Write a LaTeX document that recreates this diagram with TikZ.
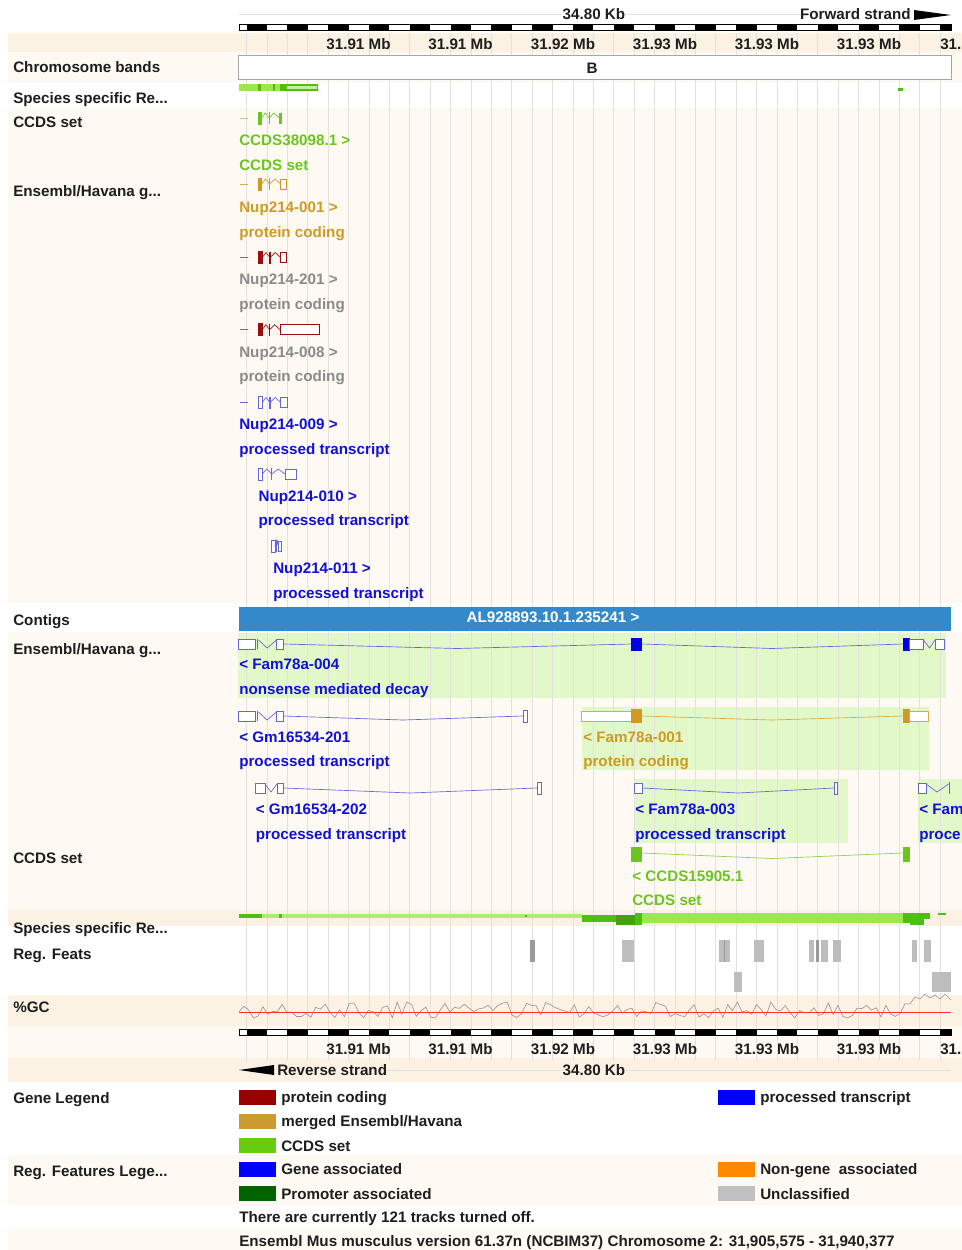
\documentclass[tikz,border=0pt]{standalone}
\usepackage{fontspec}
\setmainfont{Liberation Sans}
\definecolor{labc}{HTML}{1E1E1E}
\definecolor{ccdsg}{HTML}{6CC51F}
\definecolor{goldc}{HTML}{CF9A22}
\definecolor{goldl}{HTML}{D8AA48}
\definecolor{redc}{HTML}{9E0D0D}
\definecolor{greyt}{HTML}{8A8A8A}
\definecolor{bluet}{HTML}{1010D8}
\definecolor{blueg}{HTML}{6565DE}
\definecolor{bluef}{HTML}{0000E6}
\definecolor{contigc}{HTML}{3489CB}
\definecolor{genebg}{HTML}{E2F8C9}
\definecolor{sslight}{HTML}{9BE655}
\definecolor{ssdark}{HTML}{4CBF12}
\definecolor{gridc}{HTML}{E4E1DC}
\definecolor{cA}{HTML}{FEFAF3}
\definecolor{cB}{HTML}{FBF2E4}
\definecolor{regg}{HTML}{BDBDBD}
\definecolor{regd}{HTML}{9A9A9A}
\definecolor{lgred}{HTML}{990000}
\definecolor{lggold}{HTML}{CC9A2E}
\definecolor{lggreen}{HTML}{66CC11}
\definecolor{lgblue}{HTML}{0000FF}
\definecolor{lgorange}{HTML}{FF8800}
\definecolor{lgdkgreen}{HTML}{006400}
\definecolor{lggrey}{HTML}{C0C0C0}
\newcommand\fs{\fontsize{11.4pt}{13pt}\selectfont\bfseries}
\newcommand\gly[8]{%
 \pgfmathsetmacro\gA{#4+0.2*(#5-#4)}%
 \pgfmathsetmacro\gB{#4+0.42*(#5-#4)}%
 \pgfmathsetmacro\gC{#4+0.7*(#5-#4)}%
 \draw[#1,line width=0.7pt,#7] (#3,#2-6) rectangle (#4,#2+6);
 \draw[#1,line width=0.5pt] (#4,#2) -- (\gA,#2-5) -- (\gB,#2);
 \draw[#1,line width=0.8pt] (\gB,#2-6) -- (\gB,#2+6);
 \draw[#1,line width=0.5pt] (\gB,#2) -- (\gC,#2-5) -- (#5,#2);
 \draw[#1,line width=0.7pt,#8] (#5,#2-5) rectangle (#6,#2+5);
}
\begin{document}
\begin{tikzpicture}[x=0.75pt,y=-0.75pt,
  tx/.style={anchor=base west,inner sep=0pt,font=\fs,text=labc},
  tc/.style={anchor=base,inner sep=0pt,font=\fs,text=labc},
  te/.style={anchor=base east,inner sep=0pt,font=\fs,text=labc},
  gl/.style={line width=0.7pt},
  intr/.style={line width=0.5pt}]
\clip (0,0) rectangle (962,1250);
\fill[white] (0,0) rectangle (962,1250);
% stripes
\fill[cB] (8,33) rectangle (962,52);
\fill[cA] (8,52) rectangle (962,83);
\fill[cA] (8,108) rectangle (962,603);
\fill[cA] (8,632) rectangle (962,910);
\fill[cB] (8,910) rectangle (962,926);
\fill[cB] (8,995) rectangle (962,1026);
\fill[cA] (8,1026) rectangle (962,1058);
\fill[cB] (8,1058) rectangle (962,1082);
\fill[cA] (8,1155) rectangle (962,1205);
\fill[cA] (8,1228) rectangle (962,1250);
% gene backgrounds
\fill[genebg] (238,633) rectangle (946,698);
\fill[genebg] (581.5,706.5) rectangle (928.5,770);
\fill[genebg] (634,779) rectangle (848,843);
\fill[genebg] (918,779) rectangle (962,843);
% grid
\foreach \k in {0,...,34} \draw[gridc,line width=0.5pt] ({246.5+20.4*\k},33) -- ++(0,1027);
% top ruler
\draw[gridc,line width=0.6pt] (239,14) -- (562,14) (626,14) -- (808,14);
\node[tc] (kbtop) at (594,19) {34.80 Kb};
\node[te] (fwd) at (911,19) {Forward strand};
\fill[black] (914,10) -- (951,15) -- (914,20) -- cycle;
\draw[black,line width=0.75pt,fill=white] (239,24) rectangle (951,30);
\foreach \k in {0,...,17} \fill[black] ({246.5+40.8*\k},24) rectangle ({min(266.9+40.8*\k,951)},30);
\node[tc] (m1) at (358.5,49) {31.91 Mb};
\node[tc] (m2) at (460.5,49) {31.91 Mb};
\node[tc] (m3) at (563,49) {31.92 Mb};
\node[tc] (m4) at (665,49) {31.93 Mb};
\node[tc] (m5) at (767,49) {31.93 Mb};
\node[tc] (m6) at (869,49) {31.93 Mb};
\node[tx] (m7) at (940,49) {31.};
% left labels
\node[tx] (L1) at (13,72) {Chromosome bands};
\node[tx] (L2) at (13,103) {Species specific Re...};
\node[tx] (L3) at (13,127) {CCDS set};
\node[tx] (L4) at (13,196) {Ensembl/Havana g...};
\node[tx] (L5) at (13,625) {Contigs};
\node[tx] (L6) at (13,654) {Ensembl/Havana g...};
\node[tx] (L7) at (13,863) {CCDS set};
\node[tx] (L8) at (13,933) {Species specific Re...};
\node[tx] (L9) at (13,959) {Reg. Feats};
\node[tx] (L10) at (13,1012) {\%GC};
\node[tx] (L11) at (13,1103) {Gene Legend};
\node[tx] (L12) at (13,1176) {Reg. Features Lege...};
% chromosome band
\draw[gray!70,line width=0.75pt,fill=white] (238.5,55) rectangle (951,79.5);
\node[tc] (band) at (592,73) {B};
% species specific top
\fill[sslight] (238.5,83.5) rectangle (280,90.5);
\fill[ssdark] (258.3,83.5) rectangle (260.7,90.5);
\fill[ssdark] (272.7,83.5) rectangle (274.7,90.5);
\fill[ssdark] (280,83.5) rectangle (318.3,90.5);
\fill[sslight!60!white] (287,85.5) rectangle (317,88.5);
\fill[ssdark] (898,88) rectangle (903,90.5);
% upper gene glyphs
\draw[ccdsg!60!white,line width=0.6pt] (240,118) -- (248,118);
\gly{ccdsg}{118}{258.3}{261.7}{279.5}{281.7}{fill=ccdsg}{fill=ccdsg}
\node[tx,text=ccdsg] (c1a) at (239,145) {CCDS38098.1 >};
\node[tx,text=ccdsg] (c1b) at (239,170) {CCDS set};
\draw[goldl,line width=0.6pt] (240,184) -- (248,184);
\gly{goldc}{184}{258.3}{261.7}{280.7}{286.7}{fill=goldc}{fill=white}
\node[tx,text=goldc] (n1a) at (239,212) {Nup214-001 >};
\node[tx,text=goldc] (n1b) at (239,237) {protein coding};
\draw[redc!70!white,line width=0.6pt] (240,257.5) -- (248,257.5);
\gly{redc}{257.5}{258.3}{262.3}{280.7}{286.7}{fill=redc}{fill=white}
\node[tx,text=greyt] (n2a) at (239,284) {Nup214-201 >};
\node[tx,text=greyt] (n2b) at (239,309) {protein coding};
\draw[redc!70!white,line width=0.6pt] (240,329.7) -- (248,329.7);
\gly{redc}{329.7}{258.3}{262.3}{280}{319.3}{fill=redc}{fill=white}
\node[tx,text=greyt] (n3a) at (239,357) {Nup214-008 >};
\node[tx,text=greyt] (n3b) at (239,381) {protein coding};
\draw[blueg,line width=0.6pt] (240,402.5) -- (248,402.5);
\gly{blueg}{402.5}{258.3}{262.3}{280.7}{287.3}{fill=white}{fill=white}
\node[tx,text=bluet] (n4a) at (239,429) {Nup214-009 >};
\node[tx,text=bluet] (n4b) at (239,454) {processed transcript};
\gly{blueg}{474}{258.3}{262.3}{285}{296.7}{fill=white}{fill=white}
\node[tx,text=bluet] (n5a) at (258.3,501) {Nup214-010 >};
\node[tx,text=bluet] (n5b) at (258.3,525.5) {processed transcript};
\gly{blueg}{546}{271.7}{275}{278.3}{281.7}{fill=white}{fill=white}
\node[tx,text=bluet] (n6a) at (273,573.5) {Nup214-011 >};
\node[tx,text=bluet] (n6b) at (273,598.5) {processed transcript};
% contig
\fill[contigc] (238.5,606.5) rectangle (951,631);
\node[tc,text=white] (contig) at (553,622) {AL928893.10.1.235241 >};
% Fam78a-004
\draw[blueg,gl,fill=white] (238.5,639) rectangle (255.6,649);
\draw[blueg,gl] (257.5,639) -- (257.5,649);
\draw[blueg,intr] (258.5,640) -- (267,648) -- (276.5,640);
\draw[blueg,gl,fill=white] (276.5,639) rectangle (283.5,649);
\draw[blueg,intr] (283.5,644) -- (457,648.5) -- (631,644);
\fill[bluef] (631,637.5) rectangle (642,650.5);
\draw[blueg,intr] (642,644) -- (772,648.5) -- (902.6,644);
\fill[bluef] (902.6,637.5) rectangle (909.6,650.5);
\draw[blueg,gl,fill=white] (909.6,639) rectangle (923.6,649);
\draw[blueg,intr] (923.6,640) -- (929.5,648) -- (935,640);
\draw[blueg,gl,fill=white] (935,639) rectangle (944.5,649);
\node[tx,text=bluet] (f4a) at (239,669) {< Fam78a-004};
\node[tx,text=bluet] (f4b) at (239,694) {nonsense mediated decay};
% Gm16534-201
\draw[blueg,gl,fill=white] (238.5,711) rectangle (255.6,721);
\draw[blueg,gl] (257.5,711) -- (257.5,721);
\draw[blueg,intr] (258.5,712) -- (267,720) -- (276.5,712);
\draw[blueg,gl,fill=white] (276.5,711) rectangle (283.5,721);
\draw[blueg,intr] (283.5,716) -- (403,720) -- (523,716);
\draw[blueg,gl,fill=white] (523,710) rectangle (527.5,722);
\node[tx,text=bluet] (g1a) at (239,742) {< Gm16534-201};
\node[tx,text=bluet] (g1b) at (239,766) {processed transcript};
% Fam78a-001
\draw[goldl,gl,fill=white] (581.5,711) rectangle (631,721);
\fill[goldc] (631,709) rectangle (642,723);
\draw[goldl,intr] (642,716) -- (772,720) -- (902.6,716);
\fill[goldc] (902.6,709) rectangle (909.6,723);
\draw[goldl,gl,fill=white] (909.6,711) rectangle (928,721);
\node[tx,text=goldc] (f1a) at (583,742) {< Fam78a-001};
\node[tx,text=goldc] (f1b) at (583,766) {protein coding};
% Gm16534-202
\draw[blueg,gl,fill=white] (255.6,783) rectangle (265,793);
\draw[blueg,intr] (265,784) -- (271,792) -- (277,784);
\draw[blueg,gl,fill=white] (277,783) rectangle (283.5,793);
\draw[blueg,intr] (283.5,788) -- (410,793) -- (537,788);
\draw[blueg,gl,fill=white] (537,782) rectangle (541.5,794);
\node[tx,text=bluet] (g2a) at (255.6,814) {< Gm16534-202};
\node[tx,text=bluet] (g2b) at (255.6,839) {processed transcript};
% Fam78a-003
\draw[blueg,gl,fill=white] (634.5,783) rectangle (642,793);
\draw[blueg,intr] (642,788) -- (738,793) -- (834,788);
\draw[blueg,gl,fill=white] (834,782) rectangle (837.5,794);
\node[tx,text=bluet] (f3a) at (635,814) {< Fam78a-003};
\node[tx,text=bluet] (f3b) at (635,839) {processed transcript};
% partial
\draw[blueg,gl,fill=white] (918.5,783) rectangle (926,793);
\draw[blueg,intr] (926,784) -- (937,792) -- (948.5,784);
\draw[blueg,gl] (949,782) -- (949,794);
\node[tx,text=bluet] (fxa) at (919,814) {< Fam};
\node[tx,text=bluet] (fxb) at (919,839) {proce};
% CCDS lower
\fill[ccdsg] (631,847) rectangle (642,861.7);
\draw[ccdsg!80!white,intr] (642,853) -- (772,858.5) -- (902.6,853);
\fill[ccdsg] (902.6,847) rectangle (909.6,861.7);
\node[tx,text=ccdsg] (c2a) at (632,881) {< CCDS15905.1};
\node[tx,text=ccdsg] (c2b) at (632,905) {CCDS set};
% species specific lower
\fill[sslight!80!white] (239,914) rectangle (581.5,917.5);
\fill[ssdark] (239,914) rectangle (262,917.5);
\fill[ssdark] (279,914) rectangle (281.5,917.5);
\fill[ssdark] (525,914.5) rectangle (527,917);
\fill[ssdark] (581.5,915) rectangle (616.4,921.7);
\fill[ssdark!85!black] (616.4,915) rectangle (635,925);
\fill[ssdark] (635,912.7) rectangle (642,925);
\fill[sslight] (642,912.7) rectangle (902.6,922.7);
\fill[ssdark] (902.6,912.7) rectangle (923.6,922.7);
\fill[ssdark] (910,922.7) rectangle (923.6,925);
\fill[ssdark] (923.6,913) rectangle (930,919);
\fill[ssdark] (937.6,912.5) rectangle (946,914.5);
% reg feats
\fill[regd] (530,940) rectangle (535,962);
\fill[regg] (622.4,940) rectangle (634,962);
\fill[regg] (718.8,940) rectangle (730.4,962);
\draw[regd,line width=0.5pt] (724,940) -- (724,962);
\fill[regg] (753.7,940) rectangle (764.4,962);
\fill[regg] (808.6,940) rectangle (814,962);
\fill[regd] (815.5,940) rectangle (819,962);
\fill[regg] (820.5,940) rectangle (828.2,962);
\fill[regg] (832.8,940) rectangle (840.7,962);
\fill[regg] (912.4,940) rectangle (917,962);
\fill[regg] (923.6,940) rectangle (930.6,962);
\fill[regg] (734,972) rectangle (742,992);
\fill[regg] (931.5,972) rectangle (951,992);
% GC
\pgfmathsetseed{7}
\draw[gray!80,line width=0.5pt] plot[domain=239:905,samples=140] (\x,{1010+8*rand}) -- (910,1004) -- (915,997) -- (920,999) -- (925,994) -- (930,998) -- (935,995) -- (940,999) -- (945,994) -- (951,1000);
\draw[red!80,line width=0.6pt] (239,1012) -- (951,1012);
% bottom ruler
\draw[black,line width=0.75pt,fill=white] (239,1029.5) rectangle (951,1035.5);
\foreach \k in {0,...,17} \fill[black] ({246.5+40.8*\k},1029.5) rectangle ({min(266.9+40.8*\k,951)},1035.5);
\node[tc] (b1) at (358.5,1054) {31.91 Mb};
\node[tc] (b2) at (460.5,1054) {31.91 Mb};
\node[tc] (b3) at (563,1054) {31.92 Mb};
\node[tc] (b4) at (665,1054) {31.93 Mb};
\node[tc] (b5) at (767,1054) {31.93 Mb};
\node[tc] (b6) at (869,1054) {31.93 Mb};
\node[tx] (b7) at (940,1054) {31.};
\draw[gridc,line width=0.6pt] (378,1070) -- (562,1070) (626,1070) -- (951,1070);
\fill[black] (239,1070) -- (274,1065) -- (274,1075) -- cycle;
\node[tx] (rev) at (277,1075) {Reverse strand};
\node[tc] (kbbot) at (594,1075) {34.80 Kb};
% legend
\fill[lgred] (239,1090) rectangle (275.5,1105);
\node[tx] (lg1) at (281,1102) {protein coding};
\fill[lggold] (239,1114) rectangle (275.5,1129);
\node[tx] (lg2) at (281,1126) {merged Ensembl/Havana};
\fill[lggreen] (239,1138) rectangle (275.5,1153);
\node[tx] (lg3) at (281,1151) {CCDS set};
\fill[lgblue] (718,1090) rectangle (755,1105);
\node[tx] (lg4) at (760,1102) {processed transcript};
\fill[lgblue] (239,1162) rectangle (275.5,1177);
\node[tx] (lg5) at (281,1174) {Gene associated};
\fill[lgdkgreen] (239,1186) rectangle (275.5,1201);
\node[tx] (lg6) at (281,1199) {Promoter associated};
\fill[lgorange] (718,1162) rectangle (755,1177);
\node[tx] (lg7) at (760,1174) {Non-gene~ associated};
\fill[lggrey] (718,1186) rectangle (755,1201);
\node[tx] (lg8) at (760,1199) {Unclassified};
\node[tx] (off) at (239,1222) {There are currently 121 tracks turned off.};
\node[tx] (ens) at (239,1246) {Ensembl Mus musculus version 61.37n (NCBIM37) Chromosome 2: 31,905,575 - 31,940,377};
\end{tikzpicture}
\end{document}
